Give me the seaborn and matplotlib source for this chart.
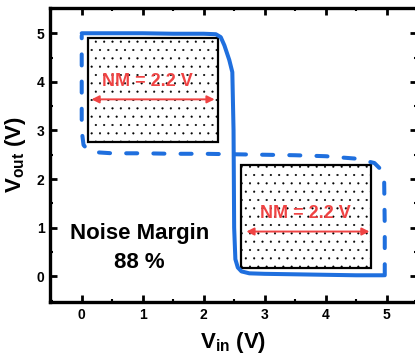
import numpy as np
import pandas as pd
import seaborn as sns
import matplotlib.pyplot as plt
from matplotlib.patches import Rectangle
from matplotlib.ticker import MultipleLocator

# forward sweep (solid) and reverse sweep (dashed)
vin_fwd = [0.0, 0.5, 1.0, 1.5, 2.0, 2.2, 2.28, 2.34, 2.42, 2.47, 2.49, 2.5, 2.52, 2.56, 2.62, 2.75, 3.0, 3.5, 4.0, 4.5, 4.95]
vout_fwd = [5.0, 5.0, 5.0, 4.99, 4.99, 4.98, 4.92, 4.75, 4.45, 4.2, 3.0, 1.0, 0.35, 0.18, 0.1, 0.06, 0.05, 0.04, 0.03, 0.02, 0.02]
vin_rev = [4.97, 4.97, 4.96, 4.92, 4.8, 4.5, 4.0, 3.5, 3.0, 2.5, 2.0, 1.5, 1.0, 0.5, 0.25, 0.1, 0.03, 0.0, 0.0, 0.0]
vout_rev = [0.02, 1.0, 2.0, 2.18, 2.33, 2.42, 2.47, 2.49, 2.5, 2.51, 2.52, 2.52, 2.53, 2.53, 2.55, 2.6, 2.7, 3.0, 4.0, 4.95]

# noise margin boxes: (x0, x1, y0, y1), arrow height, label position
boxes = [(0.1, 2.23, 2.76, 4.9), (2.62, 4.75, 0.17, 2.28)]
arrow_y = [3.64, 0.92]
arrow_x = [(0.16, 2.18), (2.7, 4.72)]
nm_text = ['NM = 2.2 V', 'NM = 2.2 V']
nm_pos = [(1.08, 4.0), (3.66, 1.3)]

blue = '#1f6fde'
red = '#ef4343'

sns.set_theme(style='ticks')
plt.rcParams['font.family'] = ['Liberation Sans', 'DejaVu Sans']
plt.rcParams['font.weight'] = 'bold'
plt.rcParams['text.color'] = 'black'
plt.rcParams['axes.labelcolor'] = 'black'
plt.rcParams['hatch.linewidth'] = 0.3
plt.rcParams['mathtext.fontset'] = 'custom'
plt.rcParams['mathtext.bf'] = 'Liberation Sans:bold'
plt.rcParams['mathtext.rm'] = 'Liberation Sans:bold'
plt.rcParams['mathtext.default'] = 'bf'

fig = plt.figure(figsize=(4.15, 3.58), dpi=100)
ax = fig.add_axes([0.1205, 0.1564, 0.8845, 0.8213])

for (x0, x1, y0, y1) in boxes:
    ax.add_patch(Rectangle((x0, y0), x1 - x0, y1 - y0, facecolor='white',
                           edgecolor='black', hatch='..', lw=1.6, zorder=1))

fwd = pd.DataFrame({'vin': vin_fwd, 'vout': vout_fwd})
rev = pd.DataFrame({'vin': vin_rev, 'vout': vout_rev})
sns.lineplot(data=fwd, x='vin', y='vout', sort=False, estimator=None, ax=ax,
             color=blue, lw=2.9, zorder=3, solid_capstyle='round', solid_joinstyle='round')
sns.lineplot(data=rev, x='vin', y='vout', sort=False, estimator=None, ax=ax,
             color=blue, lw=2.9, zorder=3, linestyle=(0, (2.75, 4.0)),
             dash_capstyle='round', dash_joinstyle='round')

for (xa, xb), ya, t, (tx, ty) in zip(arrow_x, arrow_y, nm_text, nm_pos):
    ax.annotate('', xy=(xb, ya), xytext=(xa, ya),
                arrowprops=dict(arrowstyle='<|-|>', color=red, lw=1.4,
                                mutation_scale=11, shrinkA=0, shrinkB=0), zorder=4)
    ax.text(tx, ty, t, color=red, fontsize=13, fontweight='bold',
            ha='center', va='center', zorder=4)

ax.text(0.95, 0.88, 'Noise Margin', fontsize=16, fontweight='bold', ha='center', va='center')
ax.text(0.95, 0.29, '88 %', fontsize=16, fontweight='bold', ha='center', va='center')

ax.set_xlim(-0.52, 5.5)
ax.set_ylim(-0.53, 5.52)
ax.xaxis.set_major_locator(MultipleLocator(1))
ax.xaxis.set_minor_locator(MultipleLocator(0.5))
ax.yaxis.set_major_locator(MultipleLocator(1))
ax.yaxis.set_minor_locator(MultipleLocator(0.5))
ax.tick_params(which='both', direction='in', top=True, right=True, width=2, colors='black')
ax.tick_params(which='major', length=5, labelsize=10, pad=4)
ax.tick_params(which='minor', length=2.5, width=1.5)
for s in ax.spines.values():
    s.set_linewidth(2.4)
    s.set_color('black')

ax.set_xlabel(r'V$_{in}$ (V)', fontsize=16, fontweight='bold', labelpad=6)
ax.set_ylabel(r'V$_{out}$ (V)', fontsize=16, fontweight='bold', labelpad=6)

fig.savefig('out.png', dpi=100)
plt.close()
